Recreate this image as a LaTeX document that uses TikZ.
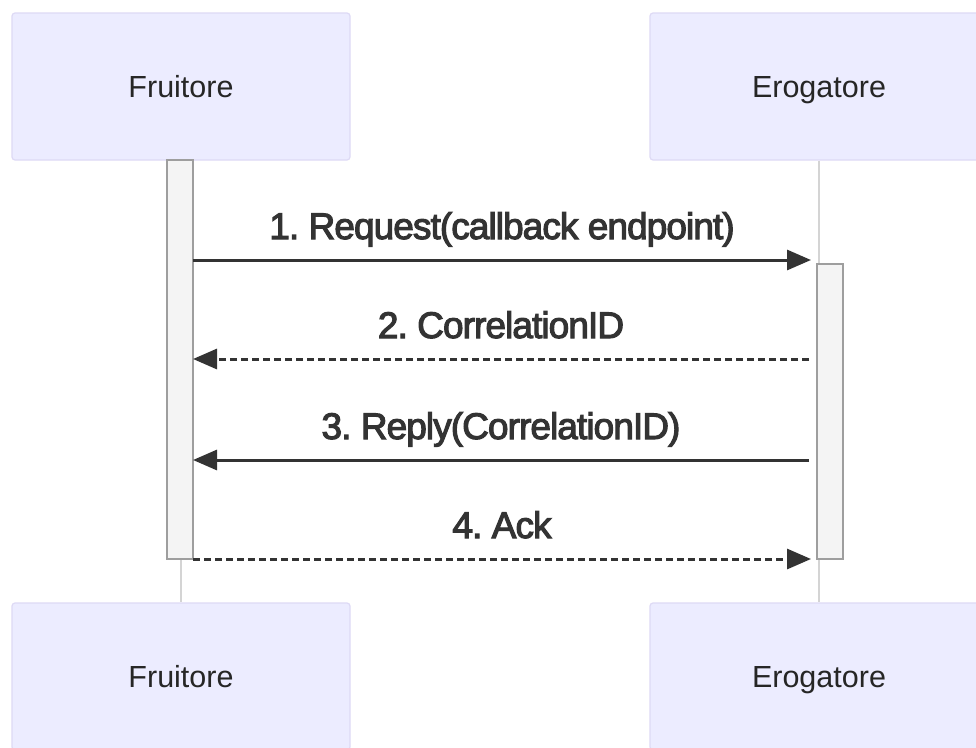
\documentclass[tikz,border=0pt]{standalone}
\usepackage{fontspec}
\setmainfont{Liberation Sans}
\newfontfamily\msgfont[FakeBold=3,LetterSpace=-2.5]{Liberation Sans}
\usetikzlibrary{positioning,arrows.meta}
\frenchspacing

\definecolor{actorfill}{RGB}{236,236,255}
\definecolor{actorline}{RGB}{222,218,245}
\definecolor{barfill}{RGB}{244,244,244}
\definecolor{barline}{RGB}{158,158,158}
\definecolor{lifegray}{RGB}{212,212,212}
\definecolor{msgcolor}{RGB}{51,51,51}

\begin{document}
\begin{tikzpicture}[x=1pt,y=-1pt]
                    \tikzstyle{actor}=[draw=actorline,line width=1.2,fill=actorfill,rounded corners=3,minimum width=338,minimum height=147,inner sep=0,text height=22pt,text depth=0pt,text=black!85,font=\fontsize{30.5}{36}\selectfont]
                    \tikzstyle{life}=[draw=lifegray,line width=1.5]
                    \tikzstyle{bar}=[draw=barline,fill=barfill,line width=1.5,minimum width=26,inner sep=0]
                    \tikzstyle{msg}=[draw=msgcolor,line width=3,-{Triangle[length=24pt,width=20pt]}]
                    \tikzstyle{reply}=[msg,dash pattern=on 7pt off 4pt]
                    \tikzstyle{lbl}=[anchor=base,yshift=21pt,inner sep=0,text=msgcolor,font=\msgfont\fontsize{37}{42}\selectfont]
                    {
                        \useasboundingbox (0,0) rectangle (976,747);
                        \clip (0,0) rectangle (976,747);
                        \fill[white] (0,0) rectangle (976,747);

                        \node[actor] (fruiTop) at (181,86.5) {Fruitore};
                        \node[actor] (eroTop) at (819,86.5) {Erogatore};
                        \node[actor] (fruiBot) at (181,676.5) {Fruitore};
                        \node[actor] (eroBot) at (819,676.5) {Erogatore};

                        \draw[life] (fruiTop) -- (fruiBot);
                        \draw[life] (eroTop) -- (eroBot);

                        \node[bar,minimum height=399] (actFrui) at (180,359.5) {};
                        \node[bar,minimum height=295] (actEro) at (830,411.5) {};

                        \coordinate (req1) at (193,260);   \coordinate (req2) at (811,260);
                        \coordinate (cid1) at (809,359);   \coordinate (cid2) at (193,359);
                        \coordinate (rep1) at (809,460);   \coordinate (rep2) at (193,460);
                        \coordinate (ack1) at (193,559);   \coordinate (ack2) at (811,559);

                        \draw[msg] (req1) -- node[lbl] {1. Request(callback endpoint)} (req2);
                        \draw[reply] (cid1) -- node[lbl] {2. CorrelationID} (cid2);
                        \draw[msg] (rep1) -- node[lbl] {3. Reply(CorrelationID)} (rep2);
                        \draw[reply] (ack1) -- node[lbl] {4. Ack} (ack2);
                    }
\end{tikzpicture}
\end{document}
